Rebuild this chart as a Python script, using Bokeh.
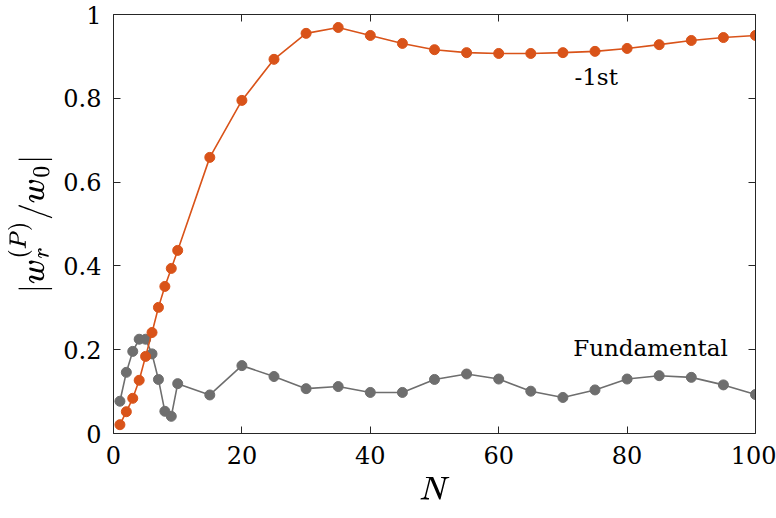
from bokeh.plotting import figure
from bokeh.models import LinearAxis, FixedTicker, Range1d, Label
from bokeh.embed import file_html
from bokeh.resources import INLINE

# Number of elements N
n_values = [1, 2, 3, 4, 5, 6, 7, 8, 9, 10, 15, 20, 25, 30, 35, 40, 45, 50,
            55, 60, 65, 70, 75, 80, 85, 90, 95, 100]

# |w_r^(P) / w_0| for the -1st order
minus_first = [0.021, 0.052, 0.084, 0.127, 0.184, 0.241, 0.301, 0.351, 0.394,
               0.437, 0.659, 0.795, 0.893, 0.955, 0.969, 0.950, 0.931, 0.916,
               0.909, 0.907, 0.907, 0.909, 0.912, 0.919, 0.928, 0.938, 0.945,
               0.950]

# |w_r^(P) / w_0| for the fundamental order
fundamental = [0.077, 0.146, 0.196, 0.225, 0.225, 0.190, 0.129, 0.053, 0.041,
               0.119, 0.092, 0.162, 0.136, 0.107, 0.112, 0.098, 0.098, 0.129,
               0.142, 0.130, 0.101, 0.086, 0.104, 0.130, 0.138, 0.134, 0.116,
               0.093]

x_ticks = [0, 20, 40, 60, 80, 100]
y_ticks = [0, 0.2, 0.4, 0.6, 0.8, 1]

ORANGE = "#D95319"
GRAY = "#6E6E6E"
AXIS = "#262626"
FONT = "DejaVu Serif"

p = figure(width=776, height=518, output_backend="svg", toolbar_location=None,
           x_range=Range1d(0, 100), y_range=Range1d(0, 1),
           min_border_left=113, min_border_right=21, min_border_top=14,
           min_border_bottom=85)
p.outline_line_color = None
p.grid.visible = False
p.background_fill_color = "white"

p.line(n_values, fundamental, line_color=GRAY, line_width=1.6)
p.scatter(n_values, fundamental, size=10, fill_color=GRAY, line_color=GRAY)
p.line(n_values, minus_first, line_color=ORANGE, line_width=1.6)
p.scatter(n_values, minus_first, size=10, fill_color=ORANGE, line_color=ORANGE)


def style(ax, ticks, labels=True):
    ax.ticker = FixedTicker(ticks=ticks)
    ax.major_tick_in = 7
    ax.major_tick_out = 0
    ax.minor_tick_line_color = None
    ax.axis_line_color = AXIS
    ax.major_tick_line_color = AXIS
    ax.axis_line_width = 1
    ax.major_label_text_font = FONT
    ax.major_label_text_font_size = "24px"
    ax.major_label_text_color = "black"
    ax.axis_label_text_font_size = "27px"
    ax.axis_label_text_color = "black"
    ax.axis_label_text_font_style = "normal"
    if not labels:
        ax.major_label_text_alpha = 0
        ax.major_label_text_font_size = "1px"


style(p.xaxis[0], x_ticks)
style(p.yaxis[0], y_ticks)
p.xaxis[0].axis_label = r"$$N$$"
p.yaxis[0].axis_label = r"$$|w_r^{(P)}/w_0|$$"
p.xaxis[0].major_label_standoff = 12
p.yaxis[0].major_label_standoff = 12
p.xaxis[0].axis_label_standoff = 10
p.yaxis[0].axis_label_standoff = 8

top = LinearAxis()
style(top, x_ticks, labels=False)
p.add_layout(top, "above")
right = LinearAxis()
style(right, y_ticks, labels=False)
p.add_layout(right, "right")

p.add_layout(Label(x=71.8, y=0.852, text="-1st", text_font=FONT,
                   text_font_size="23px", text_color="black",
                   text_baseline="middle"))
p.add_layout(Label(x=71.6, y=0.203, text="Fundamental", text_font=FONT,
                   text_font_size="23px", text_color="black",
                   text_baseline="middle"))

open("out.html", "w").write(file_html(p, INLINE))
